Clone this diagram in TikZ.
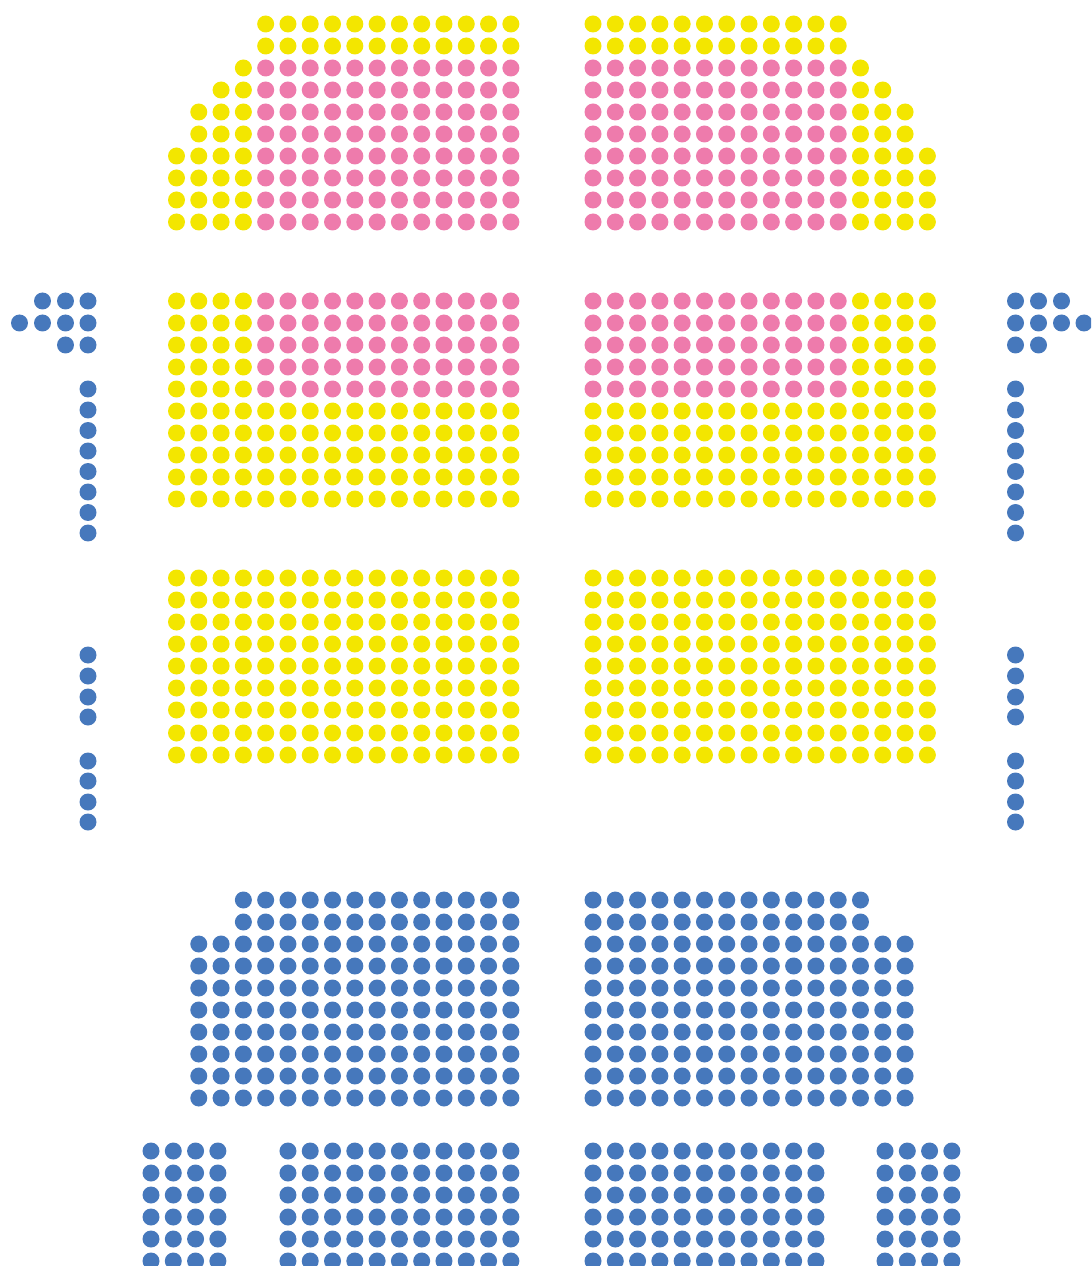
\documentclass[tikz,border=0pt]{standalone}
\usepackage{xcolor}
\usepackage{tikz}
\definecolor{seatYellow}{HTML}{F3E600}
\definecolor{seatPink}{HTML}{EE7BAC}
\definecolor{seatBlue}{HTML}{4678BC}
\def\pitch{22.29}
\def\seatR{0.17cm}
\def\xL{176.5}
\def\xR{593}
% #1 = colour, #2 = x of column 0, #3 = first column, #4 = last column, #5 = rows
\newcommand{\seatrows}[5]{%
\foreach \y in {#5}
\foreach \i in {#3,...,#4}
\fill[#1] ({#2+\pitch*\i},\y) circle[radius=\seatR];
}
% #1 = x of the column, #2 = rows
\newcommand{\seatcol}[2]{%
\foreach \y in {#2}
\fill[seatBlue] (#1,\y) circle[radius=\seatR];
}

\begin{document}
\begin{tikzpicture}[x=0.02cm,y=-0.02cm]
\useasboundingbox (0,0) rectangle (1091,1266);
\clip (0,0) rectangle (1091,1266);

% Upper block
\seatrows{seatYellow}{\xL}{4}{15}{24,46}
\seatrows{seatYellow}{\xR}{0}{11}{24,46}
\seatrows{seatPink}{\xL}{4}{15}{68,90,112,134,156,178,200,222}
\seatrows{seatPink}{\xR}{0}{11}{68,90,112,134,156,178,200,222}
\seatrows{seatYellow}{\xL}{3}{3}{68}
\seatrows{seatYellow}{\xL}{2}{3}{90}
\seatrows{seatYellow}{\xL}{1}{3}{112,134}
\seatrows{seatYellow}{\xL}{0}{3}{156,178,200,222}
\seatrows{seatYellow}{\xR}{12}{12}{68}
\seatrows{seatYellow}{\xR}{12}{13}{90}
\seatrows{seatYellow}{\xR}{12}{14}{112,134}
\seatrows{seatYellow}{\xR}{12}{15}{156,178,200,222}

% Middle block
\seatrows{seatYellow}{\xL}{0}{3}{301,323,345,367,389}
\seatrows{seatPink}{\xL}{4}{15}{301,323,345,367,389}
\seatrows{seatPink}{\xR}{0}{11}{301,323,345,367,389}
\seatrows{seatYellow}{\xR}{12}{15}{301,323,345,367,389}
\seatrows{seatYellow}{\xL}{0}{15}{411,433,455,477,499}
\seatrows{seatYellow}{\xR}{0}{15}{411,433,455,477,499}

% Lower yellow block
\seatrows{seatYellow}{\xL}{0}{15}{578,600,622,644,666,688,710,733,755}
\seatrows{seatYellow}{\xR}{0}{15}{578,600,622,644,666,688,710,733,755}

% Blue block
\seatrows{seatBlue}{\xL}{3}{15}{900,922}
\seatrows{seatBlue}{\xR}{0}{12}{900,922}
\seatrows{seatBlue}{\xL}{1}{15}{944,966,988,1010,1032,1054,1076,1098}
\seatrows{seatBlue}{\xR}{0}{14}{944,966,988,1010,1032,1054,1076,1098}

% Front rows
\seatrows{seatBlue}{151}{0}{3}{1151,1173,1195,1217,1239,1261}
\seatrows{seatBlue}{\xL}{5}{15}{1151,1173,1195,1217,1239,1261}
\seatrows{seatBlue}{\xR}{0}{10}{1151,1173,1195,1217,1239,1261}
\seatrows{seatBlue}{885}{0}{3}{1151,1173,1195,1217,1239,1261}

% Left side
\seatcol{19.5}{323}
\seatcol{42.5}{301,323}
\seatcol{65.5}{301,323,345}
\seatcol{88}{301,323,345,389,410,430.5,451,471.5,492,512.5,533,655,676,697,717,761,781,802,822}

% Right side
\seatcol{1015.5}{301,323,345,389,410,430.5,451,471.5,492,512.5,533,655,676,697,717,761,781,802,822}
\seatcol{1038.5}{301,323,345}
\seatcol{1061.5}{301,323}
\seatcol{1084}{323}
\end{tikzpicture}
\end{document}
